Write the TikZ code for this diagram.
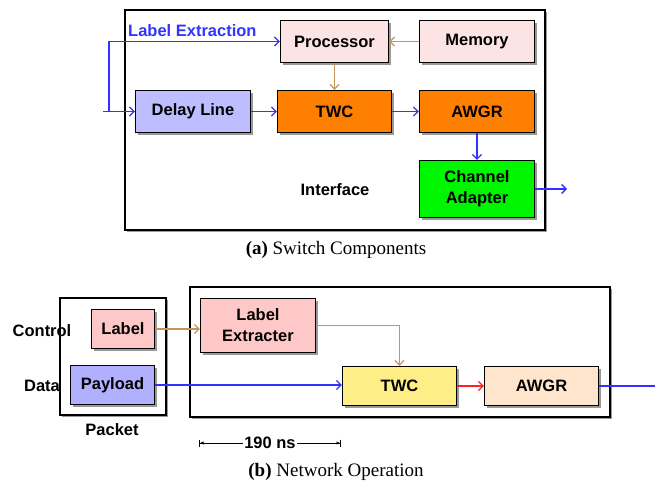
\documentclass[tikz,border=0pt]{standalone}
\usepackage{fontspec}
\setmainfont{Liberation Serif}
\setsansfont{Liberation Sans}
\usetikzlibrary{arrows.meta,shadows}
\definecolor{cblue}{HTML}{3333FF}
\definecolor{cbrown}{HTML}{C8935C}
\definecolor{cred}{HTML}{FF2020}
\definecolor{fproc}{HTML}{FCE4E4}
\definecolor{fdelay}{HTML}{BDBDFF}
\definecolor{forange}{HTML}{FF8000}
\definecolor{fgreen}{HTML}{00F500}
\definecolor{flabel}{HTML}{FFC8C8}
\definecolor{fpay}{HTML}{B0B0FF}
\definecolor{fyellow}{HTML}{FFEE88}
\definecolor{fpeach}{HTML}{FFE5CC}
\begin{document}
\begin{tikzpicture}[x=1pt,y=-1pt,
  shad/.style={drop shadow={shadow xshift=2.5pt,shadow yshift=-2.5pt,fill=black!40,opacity=1}},
  thinshad/.style={drop shadow={shadow xshift=1.8pt,shadow yshift=-1.8pt,fill=black!40,opacity=1}},
  blk/.style={draw=black,line width=1.3pt,inner sep=0pt,align=center,shad,
    font=\sffamily\bfseries\fontsize{16.5}{21}\selectfont},
  boxframe/.style={draw=black,line width=1.4pt,inner sep=0pt,fill=white,thinshad},
  lbl/.style={font=\sffamily\bfseries\fontsize{16.5}{19}\selectfont,inner sep=0pt},
  captxt/.style={font=\fontsize{19}{22}\selectfont,inner sep=0pt},
  tip/.style={-{Straight Barb[length=4.5pt,width=9pt,line width=1.3pt]}},
  bl/.style={draw=cblue,line width=1.4pt,tip},
  br/.style={draw=cbrown,line width=1.4pt,tip},
  rd/.style={draw=cred,line width=1.4pt,tip},
  bline/.style={draw=cblue,line width=1.4pt}
]
\useasboundingbox (0,0) rectangle (655,486);

% ---------- (a) switch components ----------
\node[boxframe,minimum width=420pt,minimum height=220pt] (sw) at (335,120) {};

\node[blk,fill=fproc,minimum width=108pt,minimum height=42pt] (proc) at (334.5,41.5) {Processor};
\node[blk,fill=fproc,minimum width=115pt,minimum height=42pt] (mem) at (477,41.5) {Memory};
\node[blk,fill=fdelay,minimum width=115pt,minimum height=42pt] (delay) at (193,111.5) {Delay Line};
\node[blk,fill=forange,minimum width=114pt,minimum height=42pt] (twc) at (334.5,111.5) {TWC};
\node[blk,fill=forange,minimum width=115pt,minimum height=42pt] (awgr) at (477,111.5) {AWGR};
\node[blk,fill=fgreen,minimum width=115pt,minimum height=57pt] (ca) at (477,189) {Channel\\Adapter};

\node[lbl,text=cblue,anchor=west] (lext) at (128,31) {Label Extraction};
\node[lbl] (iface) at (335,190) {Interface};

\coordinate (in) at (103,111.5);
\coordinate (split) at (109,111.5);
\coordinate (out) at (567,189);

\draw[bl] (in) -- (delay.west);
\draw[bl] (split) |- (proc.west);
\draw[bl] (delay.east) -- (twc.west);
\draw[bl] (twc.east) -- (awgr.west);
\draw[bl] (awgr.south) -- (ca.north);
\draw[bl] (ca.east) -- (out);
\draw[br] (mem.west) -- (proc.east);
\draw[br] (proc.south) -- (twc.north);

\node[captxt] (capa) at (336,250) {\textbf{(a)} Switch Components};

% ---------- (b) network operation ----------
\node[boxframe,minimum width=106pt,minimum height=117pt] (pkt) at (113,356.5) {};
\node[boxframe,minimum width=420pt,minimum height=130pt] (net) at (400,352) {};

\node[blk,fill=flabel,minimum width=63pt,minimum height=39pt] (lab) at (123,329) {Label};
\node[blk,fill=fpay,minimum width=84pt,minimum height=39pt] (pay) at (112.5,385) {Payload};
\node[blk,fill=flabel,minimum width=115pt,minimum height=54pt] (lx) at (258,325.5) {Label\\Extracter};
\node[blk,fill=fyellow,minimum width=114pt,minimum height=39pt] (twcb) at (399.5,386) {TWC};
\node[blk,fill=fpeach,minimum width=114pt,minimum height=39pt] (awgrb) at (541.5,386) {AWGR};

\node[lbl] (ctrl) at (42,331) {Control};
\node[lbl] (data) at (42,386) {Data};
\node[lbl] (packet) at (112,430) {Packet};

\coordinate (outb) at (655,386);

\draw[br] (lab.east) -- (lab.east -| lx.west);
\draw[br] (lx.east) -| (twcb.north);
\draw[bl] (pay.east) -- (pay.east -| twcb.west);
\draw[rd] (twcb.east) -- (awgrb.west);
\draw[bline] (awgrb.east) -- (outb);

% delay span
\coordinate (dl) at (199,443);
\coordinate (dr) at (341,443);
\draw[line width=1pt,{Bar[width=7pt]Latex[length=3.5pt,width=3.5pt]}-{Latex[length=3.5pt,width=3.5pt]Bar[width=7pt]}] (dl) -- (dr);
\node[lbl,fill=white,inner xsep=1pt] (ns) at (270,443) {190 ns};

\node[captxt] (capb) at (336,472) {\textbf{(b)} Network Operation};
\end{tikzpicture}
\end{document}
